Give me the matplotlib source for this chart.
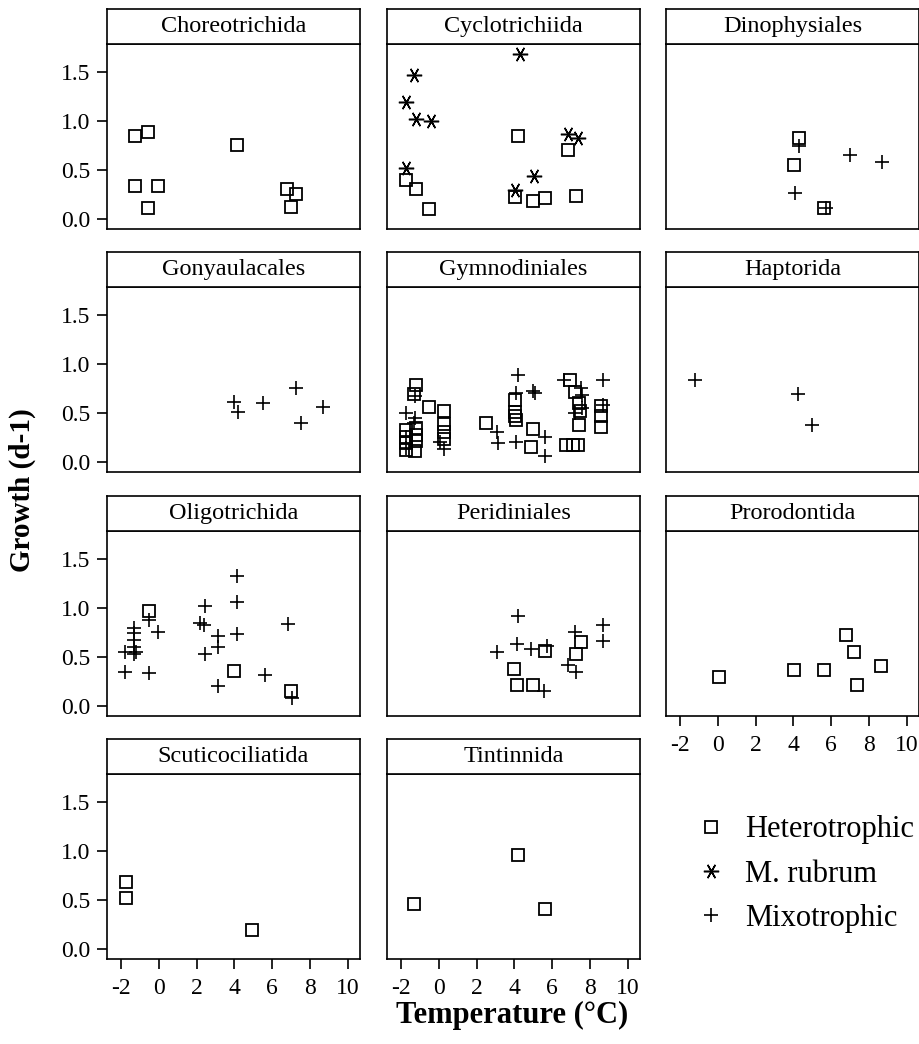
import matplotlib
matplotlib.use("Agg")
import matplotlib.pyplot as plt
from matplotlib.lines import Line2D

plt.rcParams['font.family'] = ['Liberation Serif', 'DejaVu Serif']

# ---------------- data ----------------
panel_names = ["Choreotrichida", "Cyclotrichiida", "Dinophysiales",
               "Gonyaulacales", "Gymnodiniales", "Haptorida",
               "Oligotrichida", "Peridiniales", "Prorodontida",
               "Scuticociliatida", "Tintinnida"]

x_ticks = [-2, 0, 2, 4, 6, 8, 10]
y_ticks = [0.0, 0.5, 1.0, 1.5]
y_tick_labels = ["0.0", "0.5", "1.0", "1.5"]

# Choreotrichida
choreo_het_x = [-1.26, -0.56, -1.26, -0.03, -0.56, 4.15, 6.80, 7.26, 6.98]
choreo_het_y = [0.84, 0.89, 0.34, 0.34, 0.11, 0.75, 0.31, 0.26, 0.12]

# Cyclotrichiida
cyclo_het_x = [-1.72, -1.19, -0.54, 4.19, 4.02, 4.98, 5.63, 7.26, 6.83]
cyclo_het_y = [0.40, 0.31, 0.10, 0.84, 0.23, 0.18, 0.22, 0.24, 0.70]
cyclo_mrub_x = [4.28, -1.30, -1.72, -1.19, -0.42, -1.72, 4.02, 5.02, 6.83, 7.35]
cyclo_mrub_y = [1.68, 1.46, 1.19, 1.02, 1.00, 0.52, 0.30, 0.44, 0.87, 0.82]

# Dinophysiales
dino_het_x = [4.27, 4.05, 5.62]
dino_het_y = [0.82, 0.55, 0.11]
dino_mix_x = [4.27, 4.10, 5.70, 6.98, 8.68]
dino_mix_y = [0.74, 0.27, 0.11, 0.65, 0.58]

# Gonyaulacales
gony_mix_x = [4.00, 4.21, 5.53, 7.26, 7.52, 8.67]
gony_mix_y = [0.61, 0.51, 0.60, 0.75, 0.40, 0.56]

# Gymnodiniales
gymno_het_x = [-1.19, -1.33, -0.54, 0.25, 0.25, 0.25, 0.25, -1.72, -1.72,
               -1.72, -1.72, -1.19, -1.19, -1.19, -1.25, 2.49, 4.05, 4.05,
               4.10, 4.02, 4.98, 4.86, 6.96, 7.23, 7.44, 7.49, 7.44, 6.74,
               7.09, 7.38, 8.58, 8.58, 8.58]
gymno_het_y = [0.78, 0.69, 0.56, 0.52, 0.39, 0.31, 0.24, 0.33, 0.26,
               0.19, 0.12, 0.35, 0.28, 0.21, 0.11, 0.40, 0.63, 0.51,
               0.43, 0.47, 0.34, 0.15, 0.84, 0.71, 0.60, 0.52, 0.38, 0.17,
               0.17, 0.17, 0.57, 0.47, 0.36]
gymno_mix_x = [-1.77, -1.25, -1.25, -1.72, -1.77, 0.07, 0.25, 4.19, 4.98,
               5.07, 4.10, 3.05, 3.14, 4.07, 5.60, 5.60, 8.67, 8.67, 6.61,
               7.50, 7.60, 7.20, 7.60, -1.30]
gymno_mix_y = [0.50, 0.45, 0.67, 0.26, 0.14, 0.20, 0.13, 0.89, 0.72,
               0.70, 0.70, 0.31, 0.19, 0.20, 0.26, 0.06, 0.83, 0.58, 0.84,
               0.75, 0.68, 0.50, 0.55, 0.40]

# Haptorida
hapto_mix_x = [-1.20, 4.25, 5.00]
hapto_mix_y = [0.84, 0.69, 0.38]

# Oligotrichida
oligo_het_x = [-0.52, 4.00, 7.00]
oligo_het_y = [0.97, 0.36, 0.15]
oligo_mix_x = [-1.79, -1.79, -1.30, -1.30, -1.30, -1.30, -1.30, -1.20, -0.52,
               -0.03, -0.52, 2.44, 2.18, 2.41, 2.44, 3.15, 3.15, 3.15, 4.15,
               4.15, 4.15, 5.62, 6.85, 7.03]
oligo_mix_y = [0.55, 0.35, 0.79, 0.74, 0.67, 0.60, 0.53, 0.55, 0.88,
               0.75, 0.34, 1.02, 0.85, 0.82, 0.53, 0.71, 0.60, 0.20, 1.32,
               1.06, 0.73, 0.32, 0.84, 0.08]

# Peridiniales
peri_het_x = [5.63, 3.98, 4.16, 4.98, 7.53, 7.26]
peri_het_y = [0.56, 0.38, 0.21, 0.22, 0.65, 0.53]
peri_mix_x = [4.19, 3.10, 4.14, 4.86, 5.72, 5.56, 7.23, 6.83, 7.26, 8.67, 8.67]
peri_mix_y = [0.92, 0.55, 0.63, 0.58, 0.61, 0.15, 0.75, 0.42, 0.35, 0.82, 0.66]

# Prorodontida
proro_het_x = [0.06, 4.04, 5.62, 6.79, 7.22, 7.37, 8.64]
proro_het_y = [0.30, 0.37, 0.37, 0.72, 0.55, 0.22, 0.41]

# Scuticociliatida
scuti_het_x = [-1.75, -1.75, 4.95]
scuti_het_y = [0.68, 0.52, 0.19]

# Tintinnida
tinti_het_x = [4.19, -1.30, 5.63]
tinti_het_y = [0.96, 0.46, 0.41]

panel_data = {
    "Choreotrichida": [("het", choreo_het_x, choreo_het_y)],
    "Cyclotrichiida": [("het", cyclo_het_x, cyclo_het_y),
                       ("mrub", cyclo_mrub_x, cyclo_mrub_y)],
    "Dinophysiales": [("het", dino_het_x, dino_het_y),
                      ("mix", dino_mix_x, dino_mix_y)],
    "Gonyaulacales": [("mix", gony_mix_x, gony_mix_y)],
    "Gymnodiniales": [("het", gymno_het_x, gymno_het_y),
                      ("mix", gymno_mix_x, gymno_mix_y)],
    "Haptorida": [("mix", hapto_mix_x, hapto_mix_y)],
    "Oligotrichida": [("het", oligo_het_x, oligo_het_y),
                      ("mix", oligo_mix_x, oligo_mix_y)],
    "Peridiniales": [("het", peri_het_x, peri_het_y),
                     ("mix", peri_mix_x, peri_mix_y)],
    "Prorodontida": [("het", proro_het_x, proro_het_y)],
    "Scuticociliatida": [("het", scuti_het_x, scuti_het_y)],
    "Tintinnida": [("het", tinti_het_x, tinti_het_y)],
}

legend_labels = ["Heterotrophic", "M. rubrum", "Mixotrophic"]

# ---------------- style ----------------
styles = {
    "het": dict(marker="s", markersize=9.0, markerfacecolor="none",
                markeredgecolor="black", markeredgewidth=1.3),
    "mrub": dict(marker=(6, 2, 90), markersize=11, color="black",
                 markeredgewidth=1.1),
    "mix": dict(marker="+", markersize=10.5, color="black",
                markeredgewidth=1.2),
}

W, H = 920, 1044
fig = plt.figure(figsize=(W / 100, H / 100), dpi=100)

col_left = [107, 387, 666]
row_bottom = [229, 472, 716, 959]
panel_w = 253
plot_h = 185
strip_h = 35
xlim = (-2.75, 10.65)
ylim = (-0.10, 1.78)
lw = 1.2

x_tick_panels = {"Prorodontida", "Scuticociliatida", "Tintinnida"}

for i, name in enumerate(panel_names):
    r, c = divmod(i, 3)
    left = col_left[c]
    bottom = row_bottom[r]
    ax = fig.add_axes([left / W, 1 - bottom / H, panel_w / W, plot_h / H])
    for kind, xs, ys in panel_data[name]:
        ax.plot(xs, ys, linestyle="none", **styles[kind])
    ax.set_xlim(*xlim)
    ax.set_ylim(*ylim)
    for sp in ax.spines.values():
        sp.set_linewidth(lw)
    ax.tick_params(direction="out", length=7, width=lw, labelsize=17, pad=5)
    ax.tick_params(axis="x", pad=7)
    if name in x_tick_panels:
        ax.set_xticks(x_ticks)
        ax.set_xticklabels([str(t) for t in x_ticks])
    else:
        ax.set_xticks([])
    if c == 0:
        ax.set_yticks(y_ticks)
        ax.set_yticklabels(y_tick_labels)
    else:
        ax.set_yticks([])
    # strip
    sax = fig.add_axes([left / W, 1 - (bottom - plot_h) / H, panel_w / W, strip_h / H])
    sax.set_xticks([])
    sax.set_yticks([])
    for sp in sax.spines.values():
        sp.set_linewidth(lw)
    sax.text(0.5, 0.5, name, ha="center", va="center", fontsize=17.5,
             transform=sax.transAxes)

# axis labels
fig.text(22 / W, 1 - 490 / H, "Growth (d-1)", rotation=90, ha="center",
         va="center", fontsize=21, fontweight="bold")
fig.text(512 / W, 1 - 1015 / H, "Temperature (\u00b0C)", ha="center",
         va="center", fontsize=22, fontweight="bold")

# legend
handles = [Line2D([], [], linestyle="none", **styles[k]) for k in ["het", "mrub", "mix"]]
fig.legend(handles, legend_labels, loc="center left",
           bbox_to_anchor=(696 / W, 1 - 874 / H), frameon=False,
           fontsize=22, handlelength=1.0, handletextpad=0.6,
           labelspacing=0.5, borderpad=0, borderaxespad=0)

fig.savefig("out.png", dpi=100)
